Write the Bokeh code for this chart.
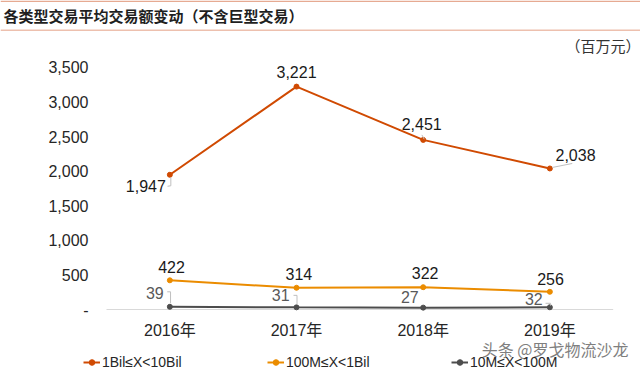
from bokeh.plotting import figure
from bokeh.models import (ColumnDataSource, Range1d, FixedTicker, NumeralTickFormatter,
                          Label, Legend, LegendItem, BoxAnnotation)
from bokeh.core.properties import value
from bokeh.embed import file_html
from bokeh.resources import INLINE

# ---------------- data ----------------
years = ["2016年", "2017年", "2018年", "2019年"]
series_names = ["1Bil≤X<10Bil", "100M≤X<1Bil", "10M≤X<100M"]
s_1bil_10bil = [1947, 3221, 2451, 2038]
s_100m_1bil = [422, 314, 322, 256]
s_10m_100m = [39, 31, 27, 32]
y_ticks = [0, 500, 1000, 1500, 2000, 2500, 3000, 3500]
title_text = "各类型交易平均交易额变动（不含巨型交易）"
unit_text = "（百万元）"
watermark_text = "头条 @罗戈物流沙龙"

# ---------------- styles ----------------
series_values = [s_1bil_10bil, s_100m_1bil, s_10m_100m]
colors = ["#D04A02", "#EB8C00", "#4D4D4D"]
label_colors = ["#1a1a1a", "#1a1a1a", "#595959"]
# label offsets in pixels (screen, +down)
label_dx = [[-24, 0, -1.5, 25.7], [1.7, 2.4, 2, 0.7], [-15, -15.8, -13.4, -16]]
label_dy = [[11.5, -14.5, -16, -13.3], [-13, -14.1, -14.5, -13], [-13.7, -12, -10.3, -8]]
# leader lines: (series, point, pixel path relative to point)
leaders = [
    (0, 0, [(1, 2.7), (1, 11), (-2.3, 11.5)]),
    (0, 2, [(-1.3, -5), (1, -0.7)]),
    (0, 3, [(2.4, -1), (22.4, -5)]),
    (2, 0, [(-2.6, -15), (0.7, -15), (0.7, -3.4)]),
    (2, 1, [(-3, -12), (0.5, -12), (0.5, -3)]),
    (2, 3, [(-4.3, -4), (0.7, -4), (0.7, -1.7)]),
]
FONT_LAT = "Liberation Sans"
FONT_CJK = "Noto Sans CJK SC"
FONT_MIX = "Liberation Sans, Noto Sans CJK SC"

W, H = 640, 372
CAT_LEFT, CAT_PX = 106.0, 126.67      # left edge of category band, px per category
ZERO_Y, PX_PER_UNIT = 309.0, 0.0692   # canvas y of value 0, px per value unit
x0 = -0.5 - CAT_LEFT / CAT_PX
x1 = x0 + W / CAT_PX
y1 = ZERO_Y / PX_PER_UNIT
y0 = y1 - H / PX_PER_UNIT
px_x = 1.0 / CAT_PX
px_y = 1.0 / PX_PER_UNIT

p = figure(width=W, height=H, output_backend="svg", toolbar_location=None,
           x_range=Range1d(x0, x1), y_range=Range1d(y0, y1),
           min_border=0)
p.outline_line_color = None
p.background_fill_color = "white"
p.border_fill_color = "white"
p.xgrid.grid_line_color = None
p.ygrid.grid_line_color = None

# axes (fixed inside the frame)
xs = list(range(len(years)))
p.xaxis.ticker = FixedTicker(ticks=xs)
p.xaxis.major_label_overrides = {i: y for i, y in zip(xs, years)}
p.xaxis.fixed_location = (ZERO_Y - 312) * px_y
p.yaxis.ticker = FixedTicker(ticks=y_ticks)
p.yaxis.formatter = NumeralTickFormatter(format="0,0")
p.yaxis.major_label_overrides = {0: "-"}
p.yaxis.fixed_location = -0.5
for ax in (p.xaxis, p.yaxis):
    ax.axis_line_color = None
    ax.major_tick_line_color = None
    ax.minor_tick_line_color = None
    ax.major_tick_out = 0
    ax.major_tick_in = 0
    ax.major_label_text_font = FONT_MIX
    ax.major_label_text_font_size = "16px"
    ax.major_label_text_color = "#262626"
p.yaxis.major_label_standoff = 18
p.xaxis.major_label_standoff = 9

# baseline across the category band
p.segment(x0=[-0.5], x1=[len(years) - 0.5], y0=[0], y1=[0], line_color="#D9D9D9", line_width=1)

# series
items = []
for name, vals, col in zip(series_names, series_values, colors):
    r1 = p.line(xs, vals, line_color=col, line_width=2)
    r2 = p.scatter(xs, vals, size=5, fill_color=col, line_color=col)
    items.append(LegendItem(label=name, renderers=[r1, r2]))

# leader lines
lx, ly = [], []
for si, pi, path in leaders:
    v = series_values[si][pi]
    lx.append([pi + dx * px_x for dx, dy in path])
    ly.append([v - dy * px_y for dx, dy in path])
p.multi_line(lx, ly, line_color="#BFBFBF", line_width=1)

# data labels
tx, ty, tt, tdx, tdy, tc = [], [], [], [], [], []
for si, vals in enumerate(series_values):
    for pi, v in enumerate(vals):
        tx.append(pi); ty.append(v); tt.append(f"{v:,}")
        tdx.append(label_dx[si][pi]); tdy.append(label_dy[si][pi]); tc.append(label_colors[si])
src = ColumnDataSource(dict(x=tx, y=ty, t=tt, dx=tdx, dy=tdy, c=tc))
p.text(x="x", y="y", text="t", x_offset="dx", y_offset="dy", text_color="c", source=src,
       text_font=value(FONT_LAT), text_font_size="16px", text_align="center", text_baseline="middle")

# legend
legend = Legend(items=items, orientation="horizontal", location=(83, 2),
                glyph_width=17, glyph_height=14, label_standoff=2, label_width=160,
                label_height=14, spacing=5, padding=0, margin=0,
                border_line_color=None, background_fill_alpha=0,
                label_text_font=FONT_LAT, label_text_font_size="14px", label_text_color="#262626")
p.add_layout(legend, "center")

# title band
p.add_layout(BoxAnnotation(left=0, right=W, bottom=H - 1.5, top=H,
                           left_units="screen", right_units="screen", top_units="screen", bottom_units="screen",
                           fill_color="#E6AA92", fill_alpha=1, line_color=None))
p.add_layout(BoxAnnotation(left=0, right=W, bottom=H - 30.5, top=H - 29,
                           left_units="screen", right_units="screen", top_units="screen", bottom_units="screen",
                           fill_color="#EDC0AE", fill_alpha=1, line_color=None))
p.add_layout(Label(x=3, y=H - 15, x_units="screen", y_units="screen", text=title_text,
                   text_font=FONT_CJK, text_font_size="15px", text_font_style="bold",
                   text_color="#1f1f1f", text_baseline="middle", text_align="left"))
p.add_layout(Label(x=565, y=H - 45, x_units="screen", y_units="screen", text=unit_text,
                   text_font=FONT_CJK, text_font_size="15px", text_color="#333333",
                   text_baseline="middle", text_align="left"))
p.add_layout(Label(x=628, y=H - 348, x_units="screen", y_units="screen", text=watermark_text,
                   text_font=FONT_CJK, text_font_size="16px", text_color="#7F7F7F",
                   text_baseline="middle", text_align="right"))

open("out.html", "w").write(file_html(p, INLINE))
